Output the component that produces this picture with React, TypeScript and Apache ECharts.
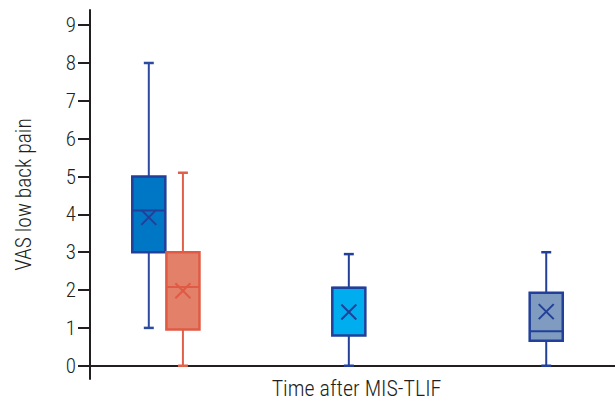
import React, { useEffect, useRef } from "react";
import * as echarts from "echarts";

// Box positions along the (unlabelled) time axis, in percent of its width
const positions = [11.2, 17.7, 49.3, 86.9];
const mins = [1, 0, 0, 0];
const q1s = [3, 0.96, 0.8, 0.66];
const medians = [4.1, 2.08, 2.06, 0.91];
const q3s = [5, 3, 2.06, 1.93];
const maxs = [8, 5.1, 2.95, 3];
const means = [3.92, 1.98, 1.42, 1.43];
const yTicks = [0, 1, 2, 3, 4, 5, 6, 7, 8, 9];

const fills = ["#0077c4", "#e2806a", "#00aeef", "#7f9bbf"];
const borders = ["#22409a", "#e05a44", "#22409a", "#22409a"];
const whiskers = ["#2b4aa0", "#e0604a", "#22409a", "#22409a"];

const FONT = "'Roboto Condensed', sans-serif";

export default function App() {
  const ref = useRef<HTMLDivElement>(null);
  useEffect(() => {
    if (!ref.current) return;
    const chart = echarts.init(ref.current, null, { renderer: "svg" });
    const data = positions.map((p, i) => [p, mins[i], q1s[i], medians[i], q3s[i], maxs[i], means[i], i]);
    chart.setOption({
      animation: false,
      grid: { left: 90, right: 0, top: 10, bottom: 22, outerBoundsMode: "none", containLabel: false },
      xAxis: {
        type: "value",
        min: 0,
        max: 100,
        axisLine: { onZero: true, lineStyle: { color: "#231f20", width: 2 } },
        axisTick: { show: false },
        axisLabel: { show: false },
        splitLine: { show: false },
        name: "Time after MIS-TLIF",
        nameLocation: "middle",
        nameGap: -2,
        nameTextStyle: { fontFamily: FONT, fontSize: 22, fontWeight: 300, color: "#231f20", padding: [0, 0, 0, 8] },
      },
      yAxis: {
        type: "value",
        min: -0.35,
        max: 9.4,
        axisLine: { show: true, onZero: false, lineStyle: { color: "#231f20", width: 2 } },
        axisTick: { show: true, length: 12, customValues: yTicks, lineStyle: { color: "#231f20", width: 2 } },
        axisLabel: {
          customValues: yTicks,
          fontFamily: FONT,
          fontSize: 21,
          fontWeight: 300,
          color: "#231f20",
          margin: 14,
        },
        splitLine: { show: false },
        name: "VAS low back pain",
        nameLocation: "middle",
        nameGap: 56,
        nameTextStyle: { fontFamily: FONT, fontSize: 21.5, fontWeight: 300, color: "#231f20" },
      },
      series: [
        {
          type: "custom",
          data,
          encode: { x: 0, y: [1, 2, 3, 4, 5, 6] },
          renderItem: (params: any, api: any) => {
            const x = api.value(0);
            const i = api.value(7);
            const pMin = api.coord([x, api.value(1)]);
            const pQ1 = api.coord([x, api.value(2)]);
            const pMed = api.coord([x, api.value(3)]);
            const pQ3 = api.coord([x, api.value(4)]);
            const pMax = api.coord([x, api.value(5)]);
            const pMean = api.coord([x, api.value(6)]);
            const halfW = api.size([6.3, 0])[0] / 2;
            const cap = api.size([1.9, 0])[0] / 2;
            const cx = pQ1[0];
            const wStyle = { stroke: whiskers[i], lineWidth: 2 };
            const xs = 7.5;
            return {
              type: "group",
              children: [
                { type: "line", shape: { x1: cx, y1: pMin[1], x2: cx, y2: pQ1[1] }, style: wStyle },
                { type: "line", shape: { x1: cx, y1: pQ3[1], x2: cx, y2: pMax[1] }, style: wStyle },
                { type: "line", shape: { x1: cx - cap, y1: pMin[1], x2: cx + cap, y2: pMin[1] }, style: { stroke: whiskers[i], lineWidth: 2.5 } },
                { type: "line", shape: { x1: cx - cap, y1: pMax[1], x2: cx + cap, y2: pMax[1] }, style: { stroke: whiskers[i], lineWidth: 2.5 } },
                {
                  type: "rect",
                  shape: { x: cx - halfW, y: pQ3[1], width: halfW * 2, height: pQ1[1] - pQ3[1] },
                  style: { fill: fills[i], stroke: borders[i], lineWidth: 2.5 },
                },
                { type: "line", shape: { x1: cx - halfW, y1: pMed[1], x2: cx + halfW, y2: pMed[1] }, style: { stroke: borders[i], lineWidth: 2 } },
                { type: "line", shape: { x1: cx - xs, y1: pMean[1] - xs, x2: cx + xs, y2: pMean[1] + xs }, style: { stroke: borders[i], lineWidth: 2 } },
                { type: "line", shape: { x1: cx - xs, y1: pMean[1] + xs, x2: cx + xs, y2: pMean[1] - xs }, style: { stroke: borders[i], lineWidth: 2 } },
              ],
            };
          },
        },
      ],
    });
    return () => chart.dispose();
  }, []);
  return <div ref={ref} style={{ width: 615, height: 401, position: "absolute", left: 0, top: 0 }} />;
}
